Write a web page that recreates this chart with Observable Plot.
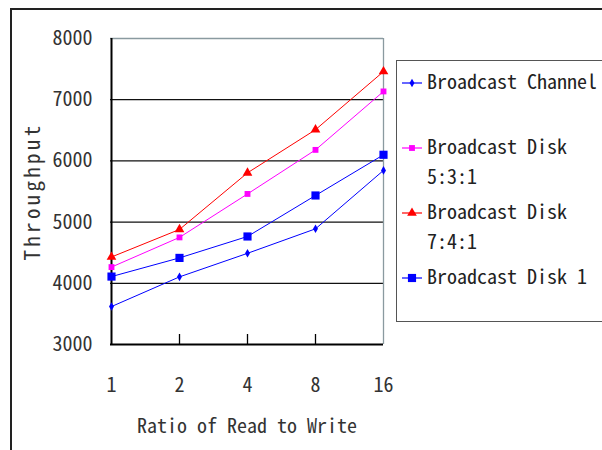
<!DOCTYPE html>
<html><head><meta charset="utf-8">
<script src="https://cdn.jsdelivr.net/npm/d3@7"></script>
<script src="https://cdn.jsdelivr.net/npm/@observablehq/plot@0.6"></script>
<style>
html,body{margin:0;padding:0;background:#fff;overflow:hidden;width:602px;height:450px;}
#wrap{position:relative;width:602px;height:450px;overflow:hidden;font-family:"Noto Sans Mono CJK JP","DejaVu Sans Mono",monospace;}
#frame{position:absolute;left:10px;top:8px;width:800px;height:600px;border:2px solid #222;box-sizing:border-box;pointer-events:none;}
#chart{position:absolute;left:0;top:0;}
#legend{position:absolute;left:396px;top:60px;width:400px;height:262px;border:1.5px solid #555;box-sizing:border-box;background:#fff;}
.entry{position:absolute;left:0;height:65px;width:380px;}
.entry svg{position:absolute;left:4px;top:6px;}
.entry .txt{position:absolute;left:30px;top:0;font-size:20px;line-height:30px;color:#222;white-space:pre;font-weight:300;}
</style></head>
<body><div id="wrap"><div id="chart"></div><div id="frame"></div><div id="legend"></div></div>
<script>
const ratios = ["1", "2", "4", "8", "16"];
const channel = [3620, 4105, 4490, 4890, 5845];
const disk531 = [4265, 4750, 5460, 6180, 7135];
const disk741 = [4430, 4880, 5805, 6510, 7460];
const disk1 = [4110, 4415, 4765, 5435, 6100];
const yTicks = [3000, 4000, 5000, 6000, 7000, 8000];
const gridValues = [4000, 5000, 6000, 7000];
const yTitle = "Throughput";
const xTitle = "Ratio of Read to Write";

const seriesNames = ["Broadcast Channel", "Broadcast Disk\n5:3:1", "Broadcast Disk\n7:4:1", "Broadcast Disk 1"];
const seriesValues = [channel, disk531, disk741, disk1];
const seriesColors = ["#0000ff", "#ff00ff", "#ff0000", "#0000ff"];
const seriesSymbols = ["diamond", "square", "triangle", "square"];
const seriesR = [2.6, 3.3, 3.6, 4.6];

const rows = [];
seriesValues.forEach((vals, s) => vals.forEach((v, i) => rows.push({series: s, ratio: ratios[i], value: v})));

const marks = [
  Plot.ruleY(gridValues, {stroke: "#111", strokeWidth: 1.3}),
  Plot.ruleY([8000], {stroke: "#8a9aa0", strokeWidth: 1.3}),
  Plot.ruleX([ratios[ratios.length - 1]], {stroke: "#8a9aa0", strokeWidth: 1.3}),
  Plot.ruleX([ratios[0]], {stroke: "#000", strokeWidth: 2}),
  Plot.ruleY([3000], {stroke: "#000", strokeWidth: 2}),
  Plot.ruleX(ratios.slice(1, -1), {y1: 3000, y2: 3000, insetBottom: 10, stroke: "#000", strokeWidth: 1.3}),
  Plot.ruleY([8000], {x1: ratios[0], x2: ratios[0], insetRight: -7, stroke: "#000", strokeWidth: 1.5}),
  Plot.axisY({ticks: yTicks, tickSize: 0, tickPadding: 18, label: null, tickFormat: d => String(d), fill: "#333"}),
  Plot.axisX({tickSize: 0, tickPadding: 33, label: xTitle, labelAnchor: "center", labelOffset: 88, fill: "#333"}),
  Plot.text([yTitle], {frameAnchor: "left", textAnchor: "middle", rotate: -90, dx: -77, fontSize: 21, fill: "#333"})
];
seriesValues.forEach((vals, s) => {
  const d = rows.filter(r => r.series === s);
  marks.push(Plot.line(d, {x: "ratio", y: "value", stroke: seriesColors[s], strokeWidth: 1}));
});
seriesValues.forEach((vals, s) => {
  const d = rows.filter(r => r.series === s);
  marks.push(Plot.dot(d, {x: "ratio", y: "value", fill: seriesColors[s], stroke: "none", symbol: seriesSymbols[s], r: seriesR[s]}));
});

const chart = Plot.plot({
  width: 602, height: 450,
  marginLeft: 110, marginRight: 219, marginTop: 38, marginBottom: 106,
  x: {type: "point", domain: ratios, padding: 0},
  y: {domain: [3000, 8000]},
  style: {fontFamily: '"Noto Sans Mono CJK JP","DejaVu Sans Mono",monospace', fontSize: "20px", fontWeight: 300, color: "#222", background: "transparent", overflow: "visible"},
  marks
});
document.getElementById("chart").appendChild(chart);
chart.querySelectorAll("text").forEach(t => { if (t.textContent === yTitle) t.setAttribute("letter-spacing", "3.3"); });

// legend
const legend = d3.select("#legend");
const offsets = [21.7, 86.7, 151.7, 216.7];
seriesNames.forEach((name, s) => {
  const e = legend.append("div").attr("class", "entry").style("top", (offsets[s] - 17) + "px");
  const svg = e.append("svg").attr("width", 22).attr("height", 22);
  svg.append("line").attr("x1", 1).attr("x2", 21).attr("y1", 11).attr("y2", 11).attr("stroke", seriesColors[s]).attr("stroke-width", 1.2);
  const sym = {diamond: d3.symbolDiamond, square: d3.symbolSquare, triangle: d3.symbolTriangle}[seriesSymbols[s]];
  svg.append("path").attr("transform", "translate(11,11)").attr("d", d3.symbol(sym, Math.PI * seriesR[s] * seriesR[s])()).attr("fill", seriesColors[s]);
  e.append("div").attr("class", "txt").text(name);
});
</script></body></html>
